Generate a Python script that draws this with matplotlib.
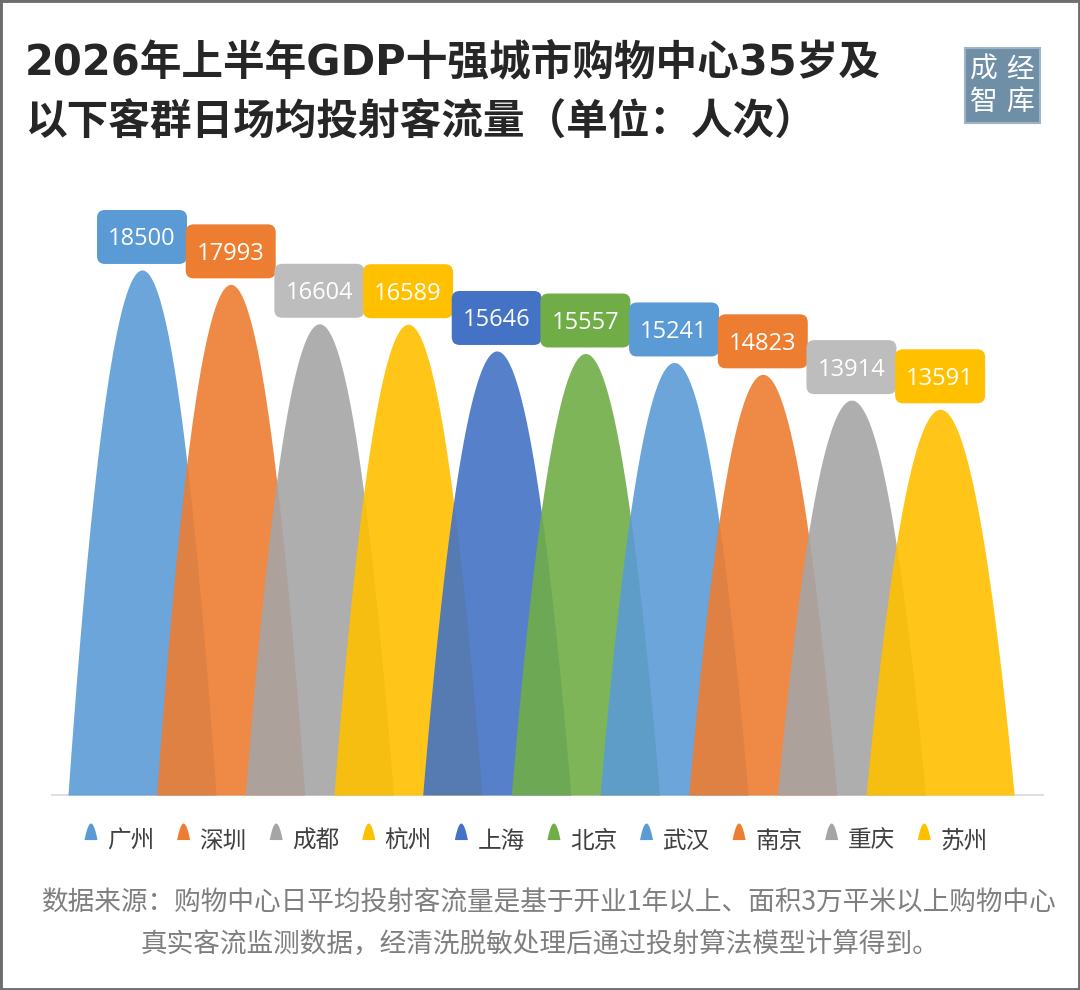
import matplotlib
matplotlib.use('Agg')
import matplotlib.pyplot as plt
import numpy as np
from matplotlib.patches import Polygon, Rectangle, Patch, FancyBboxPatch
from matplotlib.legend_handler import HandlerBase

plt.rcParams['font.family'] = ['Noto Sans CJK SC', 'DejaVu Sans']

# ---- data ----
cities = ['广州', '深圳', '成都', '杭州', '上海', '北京', '武汉', '南京', '重庆', '苏州']
values = [18500, 17993, 16604, 16589, 15646, 15557, 15241, 14823, 13914, 13591]
shape_colors = ['#5B9BD5', '#ED7D31', '#A5A5A5', '#FFC000', '#4472C4',
                '#70AD47', '#5B9BD5', '#ED7D31', '#A5A5A5', '#FFC000']
box_colors = ['#5B9BD5', '#ED7D31', '#BDBDBD', '#FFC000', '#4472C4',
              '#70AD47', '#5B9BD5', '#ED7D31', '#BDBDBD', '#FFC000']
title_lines = ['2026年上半年GDP十强城市购物中心35岁及',
               '以下客群日场均投射客流量（单位：人次）']
source_lines = ['数据来源：购物中心日平均投射客流量是基于开业1年以上、面积3万平米以上购物中心',
                '真实客流监测数据，经清洗脱敏处理后通过投射算法模型计算得到。']
logo_chars = ['成', '经', '智', '库']

W, H = 1080, 990
fig = plt.figure(figsize=(W / 100, H / 100), dpi=100)
fig.patch.set_facecolor('white')

AX_L, AX_B, AX_W, AX_H = 52, 795, 991, 567.6
XMIN, XMAX, YMAX = -1.015, 10.16, 20000
ax = fig.add_axes([AX_L / W, (H - AX_B) / H, AX_W / W, AX_H / H])
ax.set_xlim(XMIN, XMAX)
ax.set_ylim(0, YMAX)
xu = (XMAX - XMIN) / AX_W      # x data units per pixel
yu = YMAX / AX_H               # y data units per pixel

HW = 0.835
t = np.linspace(-1, 1, 301)
box_w, box_h, gap = 90 * xu, 54 * yu, 6 * yu
for i, (v, c) in enumerate(zip(values, shape_colors)):
    ax.fill_between(i + t * HW, v * (1 - t ** 2), 0, color=c, alpha=0.9,
                    lw=0, zorder=2 + i)
    bx = FancyBboxPatch((i - box_w / 2, v + gap), box_w, box_h,
                        boxstyle=f'round,pad=0,rounding_size={8 * xu}',
                        mutation_aspect=yu / xu, fc=box_colors[i], ec='none',
                        zorder=30 + 2 * i, clip_on=False)
    ax.add_patch(bx)
    ax.annotate(f'{v}', (i, v + gap + box_h / 2), xytext=(0, -8.5),
                textcoords='offset pixels', ha='center', va='baseline',
                fontsize=17, family=['Open Sans', 'DejaVu Sans'],
                color='white', zorder=31 + 2 * i, annotation_clip=False)

for s in ['top', 'left', 'right']:
    ax.spines[s].set_visible(False)
ax.spines['bottom'].set_color('#D9D9D9')
ax.spines['bottom'].set_linewidth(1.2)
ax.spines['bottom'].set_zorder(1)
ax.set_xticks([])
ax.set_yticks([])
ax.patch.set_alpha(0)


class BellHandler(HandlerBase):
    def create_artists(self, legend, orig_handle, xdescent, ydescent,
                       width, height, fontsize, trans):
        tt = np.linspace(-1, 1, 41)
        xs = width / 2 + tt * width / 2 - xdescent
        ys = height * (1 - tt ** 2) - ydescent + 0.45 * height
        xs = np.append(xs, xs[0])
        ys = np.append(ys, ys[0])
        p = Polygon(np.column_stack([xs, ys]), closed=True,
                    fc=orig_handle.get_facecolor(), ec='none', transform=trans)
        return [p]


handles = [Patch(facecolor=c) for c in shape_colors]
ax.legend(handles, cities, handler_map={Patch: BellHandler()}, ncol=10,
          loc='center', bbox_to_anchor=(536 / W, 1 - 841 / H),
          bbox_transform=fig.transFigure, frameon=False, fontsize=17,
          handlelength=0.55, handleheight=0.7, handletextpad=0.4,
          columnspacing=0.97, labelcolor='#404040', borderpad=0)

# title
fig.text(25 / W, 1 - 62 / H, title_lines[0], fontsize=30, weight='bold',
         family=['DejaVu Sans', 'Noto Sans CJK SC'],
         color='#262626', va='center', ha='left')
fig.text(25 / W, 1 - 123 / H, title_lines[1], fontsize=30, weight='bold',
         color='#262626', va='center', ha='left')

# source
fig.text(42 / W, 1 - 903 / H, source_lines[0], fontsize=19.2, color='#7F7F7F',
         va='center', ha='left')
fig.text(140 / W, 1 - 945 / H, source_lines[1], fontsize=19.2, color='#7F7F7F',
         va='center', ha='left')

# logo
fig.patches.append(Rectangle((965 / W, 1 - 123 / H), 75 / W, 75 / H,
                             transform=fig.transFigure, fc='#6F8FA7', ec='#9FB3C3',
                             lw=1.5))
for k, ch in enumerate(logo_chars):
    cx = 984 + (k % 2) * 36
    cy = 70 + (k // 2) * 32
    fig.text(cx / W, 1 - cy / H, ch, fontsize=20, color='white',
             ha='center', va='center')

# border
fig.patches.append(Rectangle((0, 0), 1, 1, transform=fig.transFigure,
                             fill=False, ec='#6E6E6E', lw=3.5))

fig.savefig('out.png', dpi=100, facecolor='white')
